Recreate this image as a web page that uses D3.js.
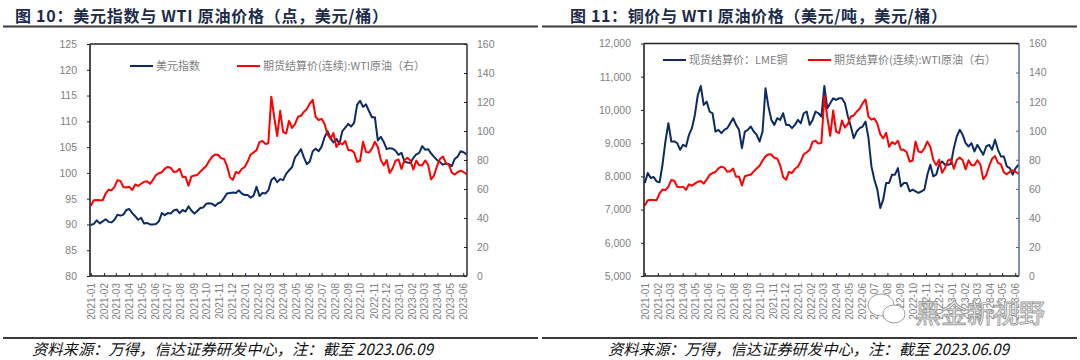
<!DOCTYPE html>
<html>
<head>
<meta charset="utf-8">
<script src="https://cdn.jsdelivr.net/npm/d3@7"></script>
<style>
  body { margin: 0; background: #fff; }
  svg { display: block; }
</style>
</head>
<body>
<div id="chart"></div>
<script>
// weekly readings (Fridays), first week 2021-01-01, last week 2023-06-09
var weekStart = new Date(2021, 0, 1);

// US dollar index
var dxy = [
  // 2021
  89.9, 90.1, 90.8, 90.2, 90.6,
  91.0, 90.5, 90.4, 90.9,
  91.9, 91.7, 91.9, 92.8,
  93.0, 92.2, 91.6, 90.9, 91.3,
  90.2, 90.3, 90.0, 90.0,
  90.1, 90.6, 92.2, 91.8,
  92.2, 92.1, 92.7, 92.9, 92.2,
  92.8, 92.5, 93.5, 92.7,
  92.1, 92.6, 93.2, 93.3,
  94.0, 94.1, 94.0, 93.6, 94.1,
  94.3, 95.1, 96.0, 96.1,
  96.2, 96.1, 96.6, 96.0, 95.7,
  // 2022
  95.7, 95.2, 95.6, 97.3,
  95.5, 96.1, 96.0, 96.6,
  98.6, 99.1, 98.2, 98.8,
  98.6, 99.8, 100.5, 101.1, 103.0,
  103.7, 104.6, 103.0, 101.7,
  102.2, 104.2, 104.7, 104.2,
  105.1, 106.9, 108.1, 106.7, 105.9,
  106.6, 105.6, 108.1, 108.8,
  109.5, 109.0, 109.7, 113.2, 114.0,
  112.8, 113.3, 112.0, 110.8,
  110.8, 106.3, 107.0, 106.0,
  104.6, 104.8, 104.7, 104.3, 103.5,
  // 2023
  103.9, 102.2, 102.0, 101.9,
  102.9, 103.6, 103.9, 105.2,
  104.5, 104.6, 103.8, 103.1, 102.5,
  102.1, 101.6, 101.8, 101.7,
  101.3, 102.7, 103.2, 104.2,
  104.0, 103.6
];

// WTI crude, continuous futures settlement (USD/bbl)
var wti = [
  // 2021
  48.5, 52.2, 52.4, 52.3, 52.2,
  56.9, 59.5, 59.2, 61.5,
  66.1, 65.6, 61.4, 61.0,
  61.5, 59.3, 63.1, 62.1, 63.6,
  64.9, 65.4, 63.6, 66.3,
  69.6, 70.9, 71.6, 74.1,
  75.2, 74.6, 71.8, 72.1, 74.0,
  68.3, 68.4, 62.3, 68.7,
  69.3, 69.7, 72.0, 74.0,
  75.9, 79.4, 82.3, 83.8, 83.6,
  81.3, 80.8, 76.1, 68.2,
  66.3, 71.7, 70.9, 73.8, 75.2,
  // 2022
  78.9, 83.8, 85.1, 86.8,
  92.3, 93.1, 91.1, 91.6,
  123.7, 109.3, 96.5, 113.9,
  99.3, 98.3, 107.0, 102.1, 104.7,
  109.8, 110.5, 113.2, 115.1,
  118.9, 121.5, 109.6, 107.6,
  108.4, 104.8, 97.6, 94.7, 98.6,
  89.0, 92.1, 90.8, 93.1,
  86.9, 86.8, 85.1, 78.7, 79.5,
  92.6, 85.6, 85.1, 87.9,
  92.6, 89.0, 80.1, 76.3,
  80.0, 71.0, 74.3, 79.6, 80.3,
  // 2023
  73.8, 79.9, 81.6, 79.7,
  73.4, 79.7, 76.3, 76.3,
  79.7, 76.7, 66.7, 69.3, 75.7,
  80.7, 82.5, 77.9, 76.8,
  71.3, 70.0, 71.7, 72.7,
  71.7, 70.2
];

// LME copper cash settlement (USD/t)
var copper = [
  // 2021
  7800, 8100, 7950, 7980, 7850,
  7820, 8350, 9050, 9600,
  9050, 9050, 9000, 8800,
  8950, 8900, 9250, 9450, 9850,
  10450, 10720, 10150, 10250,
  9950, 9900, 9350, 9400,
  9300, 9400, 9450, 9600, 9750,
  9550, 9400, 8850, 9350,
  9400, 9500, 9350, 9250,
  9050, 9350, 10650, 10100, 9700,
  9550, 9750, 9700, 9900,
  9550, 9550, 9450, 9550, 9700,
  // 2022
  9600, 9900, 9950, 9550,
  9700, 9950, 9900, 9800,
  10720, 10050, 10200, 10350,
  10300, 10350, 10350, 10200, 9800,
  9500, 9150, 9350, 9450,
  9500, 9650, 9150, 8300,
  7900, 7600, 7050, 7300, 7800,
  7800, 8050, 8050, 8250,
  7700, 7800, 7800, 7550, 7600,
  7550, 7500, 7550, 7600,
  8050, 8350, 8000, 8050,
  8350, 8450, 8350, 8350, 8370,
  // 2023
  8850, 9200, 9400, 9250,
  9000, 8900, 9000, 8750,
  8950, 8800, 8650, 8900, 8950,
  8800, 9100, 8800, 8600,
  8600, 8300, 8250, 8050,
  8250, 8350
];

var dxyTicks = [80, 85, 90, 95, 100, 105, 110, 115, 120, 125];
var copperTicks = [5000, 6000, 7000, 8000, 9000, 10000, 11000, 12000];
var wtiTicks = [0, 20, 40, 60, 80, 100, 120, 140, 160];

var titles = ["图 10：美元指数与 WTI 原油价格（点，美元/桶）", "图 11：铜价与 WTI 原油价格（美元/吨，美元/桶）"];
var legendNames = ["美元指数", "现货结算价：LME铜", "期货结算价(连续):WTI原油（右）"];
var sourceNote = "资料来源：万得，信达证券研发中心，注：截至 2023.06.09";

var blue = "#0c2a63", red = "#ff0000", grey = "#808080";
var cjk = "'Noto Sans CJK SC', 'Liberation Sans', sans-serif";
var latin = "'Liberation Sans', Arial, sans-serif";

var weeks = d3.range(dxy.length).map(function(i) { return d3.timeDay.offset(weekStart, 7 * i); });
var months = d3.timeMonth.range(new Date(2021, 0, 1), new Date(2023, 5, 2));

var svg = d3.select("#chart")
  .append("svg")
    .attr("width", 1080)
    .attr("height", 360);

function drawPanel(p) {
  var x = d3.scaleTime()
    .domain([new Date(2020, 11, 30), new Date(2023, 5, 10)])
    .range([p.left, p.right]);
  var yL = d3.scaleLinear().domain(d3.extent(p.leftTicks)).range([p.bottom, p.top]);
  var yR = d3.scaleLinear().domain(d3.extent(wtiTicks)).range([p.bottom, p.top]);

  // title and rules
  svg.append("text")
    .attr("x", p.titleX).attr("y", 21.5)
    .attr("textLength", p.titleWidth).attr("lengthAdjust", "spacing")
    .style("font-family", cjk).style("font-size", "16px").style("font-weight", "bold")
    .style("fill", "#1c2b4b")
    .text(p.title);
  svg.append("line")
    .attr("x1", p.ruleX[0]).attr("x2", p.ruleX[1]).attr("y1", 26.5).attr("y2", 26.5)
    .style("stroke", "#3a3a3a").style("stroke-width", 2);
  svg.append("line")
    .attr("x1", p.ruleX[0]).attr("x2", p.ruleX[1]).attr("y1", 338).attr("y2", 338)
    .style("stroke", "#3a3a3a").style("stroke-width", 2);
  svg.append("text")
    .attr("x", p.noteX).attr("y", 355)
    .style("font-family", cjk).style("font-size", "15.3px").style("font-style", "italic")
    .style("fill", "#111")
    .text(sourceNote);

  // left axis
  var gl = svg.append("g")
    .attr("transform", "translate(" + p.left + ",0)")
    .call(d3.axisLeft(yL).tickValues(p.leftTicks).tickFormat(p.leftFormat).tickSize(3).tickPadding(10));
  // right axis
  var gr = svg.append("g")
    .attr("transform", "translate(" + p.right + ",0)")
    .call(d3.axisRight(yR).tickValues(wtiTicks).tickSize(-3).tickPadding(10));
  // bottom axis, month labels turned upright
  var gx = svg.append("g")
    .attr("transform", "translate(0," + p.bottom + ")")
    .call(d3.axisBottom(x).tickValues(months).tickFormat(d3.timeFormat("%Y-%m")).tickSize(-3));
  gx.selectAll("text")
    .attr("transform", "rotate(-90)")
    .attr("text-anchor", "end")
    .attr("x", -7).attr("y", 0).attr("dy", "0.35em")
    .style("font-size", "10px");

  [gl, gr, gx].forEach(function(g) {
    g.select(".domain").remove();
    g.selectAll("text").style("fill", grey).style("font-family", latin);
    g.selectAll(".tick line").style("stroke", "#222");
  });
  gl.selectAll("text").style("font-size", "10.5px");
  gr.selectAll("text").style("font-size", "10.5px");
  gr.selectAll(".tick line").style("stroke", p.rightAxisColor);

  // lines
  var lineL = d3.line()
    .x(function(d, i) { return x(weeks[i]); })
    .y(function(d) { return yL(d); });
  var lineR = d3.line()
    .x(function(d, i) { return x(weeks[i]); })
    .y(function(d) { return yR(d); });

  svg.append("path")
    .datum(p.leftSeries)
    .attr("d", lineL)
    .style("fill", "none").style("stroke", blue).style("stroke-width", 2)
    .style("stroke-linejoin", "round");
  svg.append("path")
    .datum(wti)
    .attr("d", lineR)
    .style("fill", "none").style("stroke", red).style("stroke-width", 2)
    .style("stroke-linejoin", "round");

  // plot frame
  svg.append("path")
    .attr("d", "M" + p.left + "," + p.top + "H" + p.right)
    .style("stroke", "#222").style("stroke-width", 1.3);
  svg.append("path")
    .attr("d", "M" + p.left + "," + p.top + "V" + p.bottom + "H" + p.right)
    .style("fill", "none").style("stroke", "#222").style("stroke-width", 1.6);
  svg.append("path")
    .attr("d", "M" + p.right + "," + p.top + "V" + p.bottom)
    .style("stroke", p.rightAxisColor).style("stroke-width", 1.4);

  // legend
  var lg = svg.append("g").style("font-family", cjk).style("font-size", "11px").style("fill", grey);
  p.legend.forEach(function(item) {
    lg.append("line")
      .attr("x1", item.x).attr("x2", item.x + 23).attr("y1", p.legendY).attr("y2", p.legendY)
      .style("stroke", item.color).style("stroke-width", 2);
    lg.append("text")
      .attr("x", item.x + 26).attr("y", p.legendY).attr("dy", "0.36em")
      .text(item.name);
  });
}

drawPanel({
  left: 90, right: 467, top: 44, bottom: 276,
  leftTicks: dxyTicks, leftFormat: d3.format("d"), leftSeries: dxy,
  title: titles[0], titleX: 15, titleWidth: 373, ruleX: [3, 538], noteX: 32,
  rightAxisColor: "#222",
  legendY: 66,
  legend: [{x: 130, color: blue, name: legendNames[0]}, {x: 237, color: red, name: legendNames[2]}]
});

drawPanel({
  left: 644, right: 1019, top: 43.5, bottom: 276,
  leftTicks: copperTicks, leftFormat: d3.format(","), leftSeries: copper,
  title: titles[1], titleX: 570, titleWidth: 377, ruleX: [542, 1077], noteX: 608,
  rightAxisColor: "#4a6396",
  legendY: 60,
  legend: [{x: 663, color: blue, name: legendNames[1]}, {x: 808, color: red, name: legendNames[2]}]
});

// watermark of the account that reposted the chart
var wm = svg.append("g").style("fill", "#fff").style("stroke", "#a0a0a0").style("stroke-width", 1);
wm.append("ellipse").attr("cx", 881).attr("cy", 305).attr("rx", 13).attr("ry", 11);
wm.append("ellipse").attr("cx", 894).attr("cy", 314).attr("rx", 11).attr("ry", 9);
wm.append("text")
  .attr("x", 915).attr("y", 323)
  .style("font-family", cjk).style("font-size", "26px")
  .text("黑金新视野");
</script>
</body>
</html>
